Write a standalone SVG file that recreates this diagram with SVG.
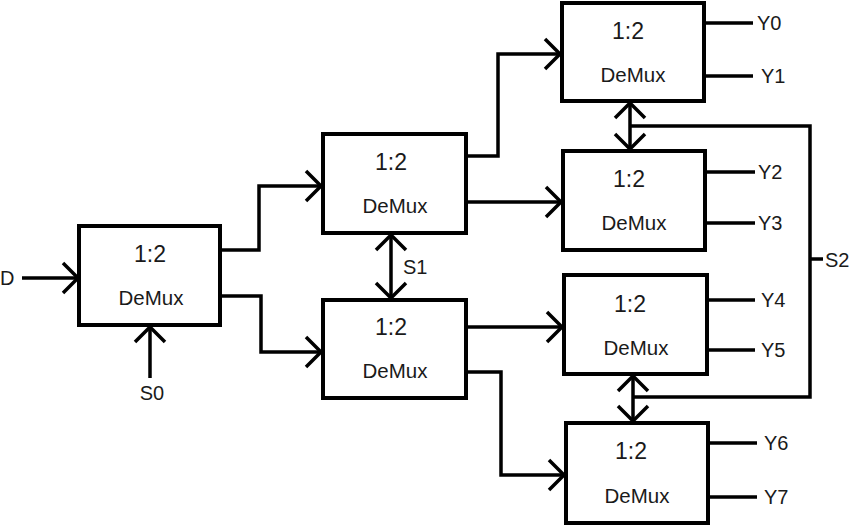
<svg xmlns="http://www.w3.org/2000/svg" width="850" height="526" viewBox="0 0 850 526">
<defs>
<style>
.box{fill:#fff;stroke:#000;stroke-width:4}
.w{fill:none;stroke:#000;stroke-width:3.5;stroke-linejoin:miter}
.t1{font-family:"Liberation Sans",Arial,sans-serif;font-size:23px;text-anchor:middle;fill:#1a1a1a}
.t2{font-family:"Liberation Sans",Arial,sans-serif;font-size:20.5px;text-anchor:middle;fill:#1a1a1a}
.lb{font-family:"Liberation Sans",Arial,sans-serif;font-size:20px;fill:#1a1a1a}
.arr{marker-end:url(#ah)}
.dbl{marker-end:url(#ah);marker-start:url(#ah)}
</style>
<marker id="ah" markerUnits="userSpaceOnUse" markerWidth="40" markerHeight="40" refX="0" refY="0" viewBox="-20 -20 40 40" orient="auto-start-reverse">
<path d="M-15,-15 L0,0 L-15,15" fill="none" stroke="#000" stroke-width="3.5"/>
</marker>
</defs>
<rect width="850" height="526" fill="#fff"/>
<g id="connectors">
<path class="w arr" d="M22,278 H78"/>
<path class="w arr" d="M150,378 V327"/>
<path class="w arr" d="M220,250 H259 V186 H321"/>
<path class="w arr" d="M220,296 H261 V352 H321"/>
<path class="w dbl" d="M391,235 V298"/>
<path class="w arr" d="M466,156 H498 V54 H560"/>
<path class="w arr" d="M466,202 H561"/>
<path class="w arr" d="M466,327 H562"/>
<path class="w arr" d="M466,372 H501 V475 H564"/>
<path class="w dbl" d="M630,103 V149"/>
<path class="w dbl" d="M633,376 V421"/>
<path class="w" d="M630,126 H810 V397 H633"/>
<path class="w" d="M810,259 H823"/>
<path class="w" d="M704,23 H753 M704,76 H753"/>
<path class="w" d="M705,172 H755 M705,223 H755"/>
<path class="w" d="M707,300 H755 M707,350 H755"/>
<path class="w" d="M708,443 H757 M708,497 H757"/>
</g>
<g id="demux-a">
<rect class="box" x="79" y="226" width="141" height="99"/>
<text class="t1" x="150" y="262">1:2</text>
<text class="t2" x="151" y="305">DeMux</text>
</g>
<g id="demux-b">
<rect class="box" x="323" y="134" width="143" height="99"/>
<text class="t1" x="391" y="170">1:2</text>
<text class="t2" x="395" y="213">DeMux</text>
</g>
<g id="demux-c">
<rect class="box" x="323" y="300" width="143" height="98"/>
<text class="t1" x="391" y="335">1:2</text>
<text class="t2" x="395" y="378">DeMux</text>
</g>
<g id="demux-d">
<rect class="box" x="562" y="3" width="142" height="98"/>
<text class="t1" x="628" y="39">1:2</text>
<text class="t2" x="633" y="82">DeMux</text>
</g>
<g id="demux-e">
<rect class="box" x="563" y="151" width="142" height="99"/>
<text class="t1" x="629" y="187">1:2</text>
<text class="t2" x="634" y="230">DeMux</text>
</g>
<g id="demux-f">
<rect class="box" x="564" y="275" width="143" height="99"/>
<text class="t1" x="630" y="312">1:2</text>
<text class="t2" x="636" y="355">DeMux</text>
</g>
<g id="demux-g">
<rect class="box" x="566" y="423" width="142" height="100"/>
<text class="t1" x="631" y="459">1:2</text>
<text class="t2" x="637" y="503">DeMux</text>
</g>
<g id="labels">
<text class="lb" x="0" y="285">D</text>
<text class="lb" x="152" y="400" text-anchor="middle">S0</text>
<text class="lb" x="403" y="274">S1</text>
<text class="lb" x="825" y="267">S2</text>
<text class="lb" x="757" y="30">Y0</text>
<text class="lb" x="761" y="83">Y1</text>
<text class="lb" x="758" y="179">Y2</text>
<text class="lb" x="758" y="230">Y3</text>
<text class="lb" x="761" y="307">Y4</text>
<text class="lb" x="761" y="357">Y5</text>
<text class="lb" x="764" y="450">Y6</text>
<text class="lb" x="764" y="504">Y7</text>
</g>
</svg>
